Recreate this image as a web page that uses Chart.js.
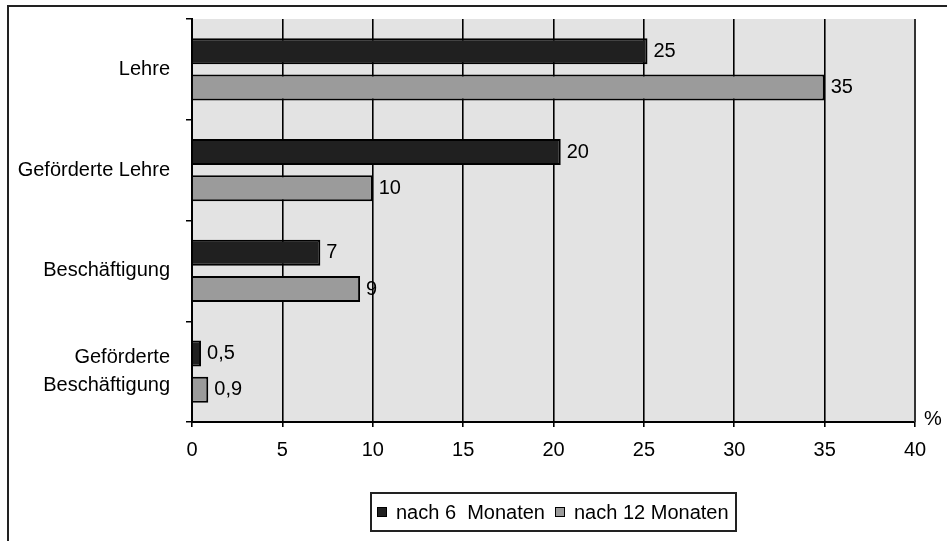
<!DOCTYPE html>
<html><head><meta charset="utf-8">
<script src="https://cdn.jsdelivr.net/npm/chart.js@4"></script>
<style>html,body{margin:0;padding:0;background:#fff;}#wrap{width:947px;height:541px;position:relative;}</style>
</head><body><div id="wrap"><canvas id="c" width="947" height="541"></canvas></div>
<script>
const categories = ['Lehre', 'Geförderte Lehre', 'Beschäftigung', ['Geförderte', 'Beschäftigung']];
const seriesNames = ['nach 6  Monaten', 'nach 12 Monaten'];
const after6 = [25.2, 20.4, 7.1, 0.5];
const after12 = [35, 10, 9.3, 0.9];
const labels6 = ['25', '20', '7', '0,5'];
const labels12 = ['35', '10', '9', '0,9'];
const xTicks = [0, 5, 10, 15, 20, 25, 30, 35, 40];

const FONT = "Liberation Sans, Arial, sans-serif";
const FS = 20;

const bgPlugin = {
  id: 'bg',
  beforeDraw(chart) {
    const {ctx, chartArea: a} = chart;
    ctx.save();
    ctx.fillStyle = '#fff';
    ctx.fillRect(0, 0, chart.width, chart.height);
    ctx.fillStyle = '#e3e3e3';
    ctx.fillRect(a.left, a.top, a.right - a.left, a.bottom - a.top);
    ctx.strokeStyle = '#222';
    ctx.lineWidth = 2;
    ctx.beginPath();
    ctx.moveTo(8, 541); ctx.lineTo(8, 6); ctx.lineTo(947, 6);
    ctx.stroke();
    ctx.restore();
  },
  afterDraw(chart) {
    const {ctx, chartArea: a} = chart;
    ctx.save();
    ctx.strokeStyle = '#333';
    ctx.lineWidth = 2;
    ctx.beginPath(); ctx.moveTo(a.right, a.top); ctx.lineTo(a.right, a.bottom); ctx.stroke();
    ctx.fillStyle = '#000';
    ctx.font = FS + 'px ' + FONT;
    ctx.textAlign = 'left'; ctx.textBaseline = 'middle';
    ctx.fillText('%', a.right + 9, a.bottom - 3);
    const lbls = [labels6, labels12];
    chart.data.datasets.forEach((ds, di) => {
      chart.getDatasetMeta(di).data.forEach((bar, i) => {
        ctx.fillText(lbls[di][i], bar.x + 6, bar.y);
      });
    });
    const lx = 371, ly = 493, lw = 365, lh = 38;
    ctx.fillStyle = '#fff';
    ctx.fillRect(lx, ly, lw, lh);
    ctx.strokeStyle = '#222'; ctx.lineWidth = 2;
    ctx.strokeRect(lx, ly, lw, lh);
    const cy = ly + lh / 2;
    const items = [{x: 377, tx: 396}, {x: 555, tx: 574}];
    chart.data.datasets.forEach((ds, di) => {
      const it = items[di];
      ctx.fillStyle = ds.backgroundColor;
      ctx.fillRect(it.x, cy - 5, 10, 10);
      ctx.strokeStyle = '#000'; ctx.lineWidth = 1;
      ctx.strokeRect(it.x + 0.5, cy - 4.5, 9, 9);
      ctx.fillStyle = '#000';
      ctx.textAlign = 'left'; ctx.textBaseline = 'middle';
      ctx.fillText(ds.label, it.tx, cy + 1);
    });
    ctx.restore();
  }
};

new Chart(document.getElementById('c'), {
  type: 'bar',
  data: {
    labels: categories,
    datasets: [
      {label: seriesNames[0], data: after6, backgroundColor: '#202020', borderColor: '#000', borderWidth: 2,
       categoryPercentage: 0.72, barPercentage: 0.72},
      {label: seriesNames[1], data: after12, backgroundColor: '#9b9b9b', borderColor: '#000', borderWidth: 2,
       categoryPercentage: 0.72, barPercentage: 0.72}
    ]
  },
  options: {
    indexAxis: 'y',
    responsive: false,
    animation: false,
    devicePixelRatio: 1,
    layout: {padding: {top: 19, right: 32, bottom: 0, left: 0}},
    plugins: {legend: {display: false}, tooltip: {enabled: false}},
    scales: {
      x: {
        min: 0, max: 40,
        afterBuildTicks(scale) { scale.ticks = xTicks.map(v => ({value: v})); },
        afterFit(scale) { scale.height = 119; scale.paddingLeft = 0; scale.paddingRight = 0; },
        grid: {color: '#000', lineWidth: 1.6, tickLength: 5, drawTicks: true},
        border: {display: true, color: '#000', width: 2},
        ticks: {color: '#000', font: {family: FONT, size: FS}, padding: 11, maxRotation: 0}
      },
      y: {
        afterFit(scale) { scale.width = 192; scale.paddingTop = 0; scale.paddingBottom = 0; },
        grid: {drawOnChartArea: false, drawTicks: true, tickLength: 6, color: '#000', lineWidth: 1.5, offset: true},
        border: {display: true, color: '#000', width: 2},
        ticks: {color: '#000', font: {family: FONT, size: FS, lineHeight: 1.4}, padding: 16, crossAlign: 'near'}
      }
    }
  },
  plugins: [bgPlugin]
});
</script></body></html>
